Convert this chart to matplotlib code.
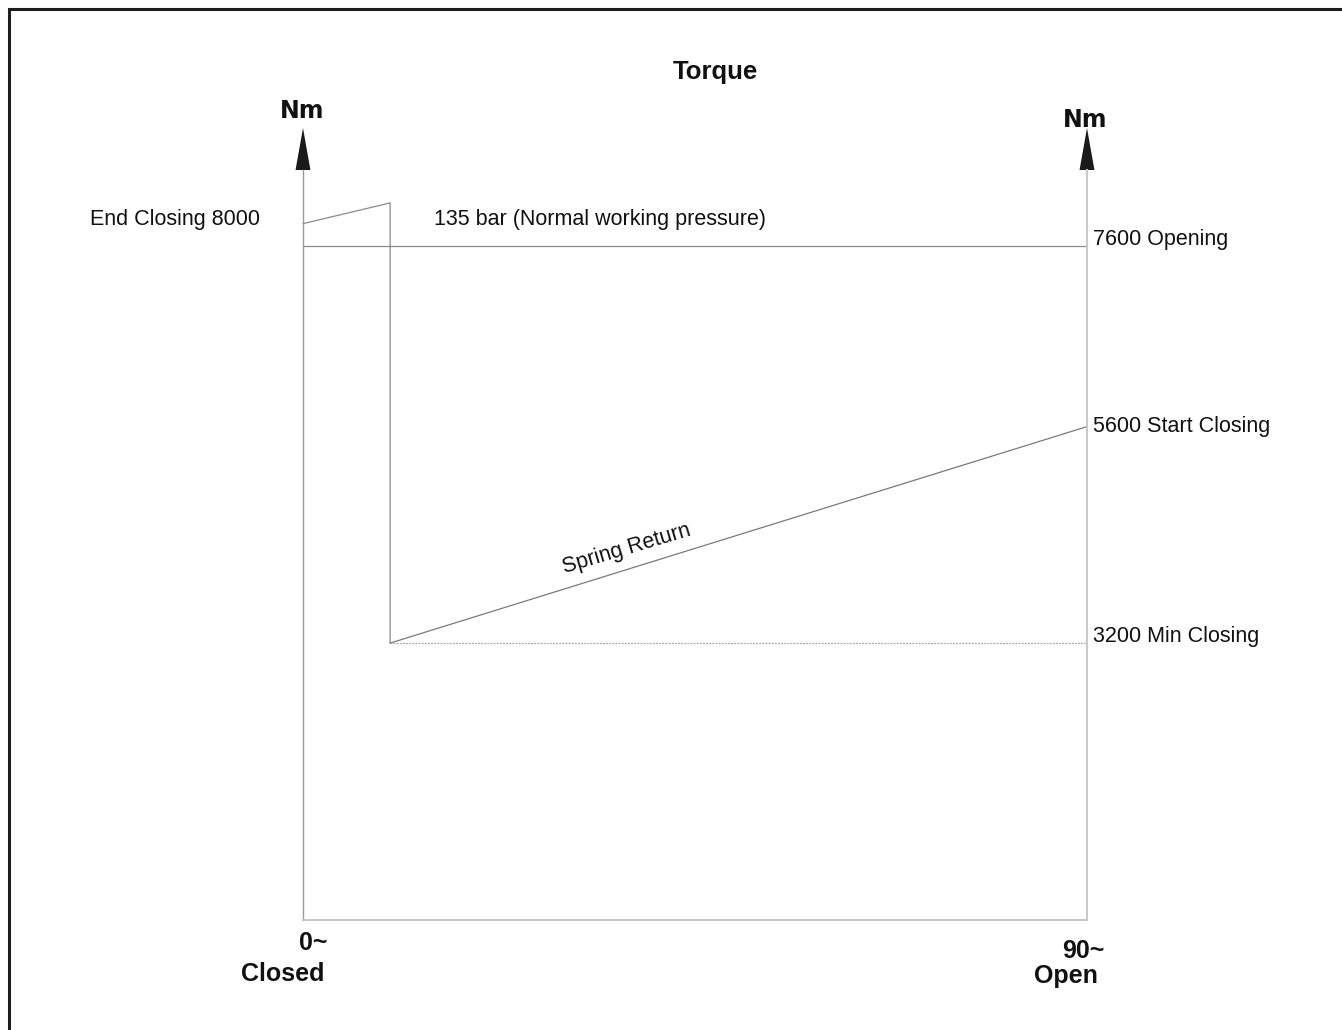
import numpy as np
import matplotlib
matplotlib.use("Agg")
import matplotlib.pyplot as plt
from matplotlib.patches import Rectangle

plt.rcParams['font.family'] = ['Liberation Sans', 'DejaVu Sans']

# Datos (angulo en grados, par en Nm)
angulo_pico = [0, 10, 10]
par_pico = [7850, 8080, 3200]
angulo_apertura = [0, 90]
par_apertura = [7600, 7600]
angulo_muelle = [10, 90]
par_muelle = [3200, 5600]
angulo_minimo = [10, 90]
par_minimo = [3200, 3200]

etiquetas_derecha = ['7600 Opening', '5600 Start Closing', '3200 Min Closing']
valores_derecha = [7600, 5600, 3200]
desplaz_derecha = [7, 0, 7]  # pixeles hacia arriba

fig = plt.figure(figsize=(13.42, 10.30), dpi=100)
ax = fig.add_axes([303 / 1342, 110 / 1030, 784 / 1342, 750 / 1030])
ax.set_xlim(0, 90)
ax.set_ylim(130, 8445)
ax.set_xticks([])
ax.set_yticks([])
ax.patch.set_alpha(0)

# Ejes (spines)
ax.spines['top'].set_visible(False)
ax.spines['left'].set_color('#9a9a9a')
ax.spines['left'].set_linewidth(1.0)
ax.spines['right'].set_color('#c8c8c8')
ax.spines['right'].set_linewidth(1.4)
ax.spines['bottom'].set_color('#c8c8c8')
ax.spines['bottom'].set_linewidth(1.4)

# Flechas de los ejes
for xa in [0, 1]:
    ax.fill([xa - 0.0095, xa + 0.0095, xa], [1.0, 1.0, 1.056], color='#1a1a1a',
            transform=ax.transAxes, clip_on=False, lw=0)

# Curvas
ax.plot(angulo_pico, par_pico, color='#8a8a8a', lw=0.9, clip_on=False)
ax.plot(angulo_apertura, par_apertura, color='#8a8a8a', lw=0.9, clip_on=False)
ax.plot(angulo_muelle, par_muelle, color='#7a7a7a', lw=0.9, clip_on=False)
ax.plot(angulo_minimo, par_minimo, color='#a8a8a8', lw=0.9, ls=(0, (1.5, 1)), clip_on=False)

# Textos
fs = 15.5
ax.annotate('End Closing 8000', xy=(0, 7900), xytext=(-43, 0), textcoords='offset pixels',
            ha='right', va='center', fontsize=fs, color='#111111')
ax.text(15, 7900, '135 bar (Normal working pressure)', ha='left', va='center',
        fontsize=fs, color='#111111')
for txt, val, dy in zip(etiquetas_derecha, valores_derecha, desplaz_derecha):
    ax.annotate(txt, xy=(90, val), xytext=(6, dy), textcoords='offset pixels',
                ha='left', va='center', fontsize=fs, color='#111111')
ax.text(37.1, 4243, 'Spring Return', rotation=16.6, ha='center', va='center',
        fontsize=fs, color='#111111')

fig.text(715 / 1342, 1 - 72 / 1030, 'Torque', ha='center', va='center',
         fontsize=18.5, fontweight='bold', color='#111111')
fig.text(302 / 1342, 1 - 111 / 1030, 'Nm', ha='center', va='center',
         fontsize=17, fontweight='heavy', family='DejaVu Sans', color='#111111')
fig.text(1085 / 1342, 1 - 120 / 1030, 'Nm', ha='center', va='center',
         fontsize=17, fontweight='heavy', family='DejaVu Sans', color='#111111')

narrow = ['Liberation Sans Narrow', 'Liberation Sans', 'DejaVu Sans']
fig.text(313 / 1342, 1 - 943 / 1030, '0~', ha='center', va='center',
         fontsize=18, fontweight='bold', family=narrow, color='#111111')
fig.text(283 / 1342, 1 - 974 / 1030, 'Closed', ha='center', va='center',
         fontsize=18, fontweight='bold', family=narrow, color='#111111')
fig.text(1083 / 1342, 1 - 951 / 1030, '90~', ha='center', va='center',
         fontsize=18, fontweight='bold', family=narrow, color='#111111')
fig.text(1066 / 1342, 1 - 976 / 1030, 'Open', ha='center', va='center',
         fontsize=18, fontweight='bold', family=narrow, color='#111111')

# Marco exterior (solo visibles borde superior e izquierdo)
fig.patches.append(Rectangle((9 / 1342, -0.1), 1.2, 1 - 9 / 1030 + 0.1,
                             transform=fig.transFigure, fill=False,
                             edgecolor='#1e1e1e', lw=2.2))

fig.savefig('out.png', dpi=100)
